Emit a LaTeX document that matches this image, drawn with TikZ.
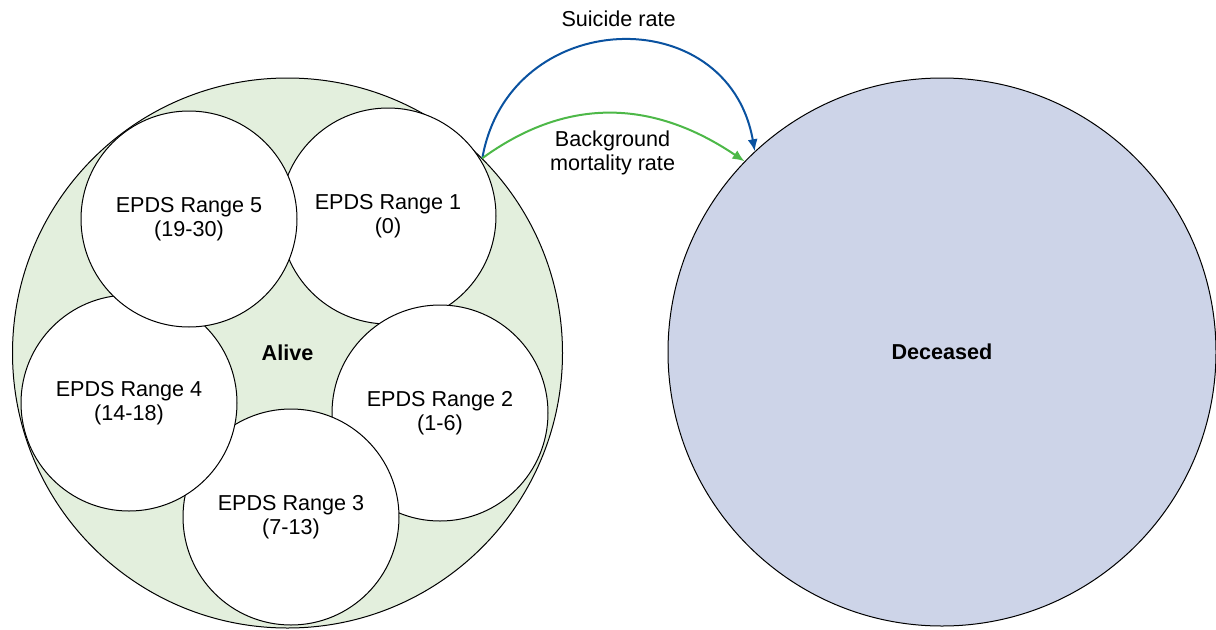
\documentclass[tikz,border=0pt]{standalone}
\usepackage{fontspec}
\setmainfont{Liberation Sans}
\usetikzlibrary{arrows.meta}
\definecolor{alivegreen}{HTML}{E3EFDD}
\definecolor{deadblue}{HTML}{CDD4E8}
\definecolor{suicideblue}{HTML}{0A52A0}
\definecolor{mortgreen}{HTML}{4DB848}
\tikzset{
    statenode/.style={circle,draw,line width=0.5pt,inner sep=0pt,font=\fontsize{10.8}{12}\selectfont\bfseries},
    epds/.style={circle,draw,line width=0.5pt,fill=white,inner sep=0pt,minimum size=108pt,align=center,font=\fontsize{10.8}{12}\selectfont},
    rate/.style={line width=1pt,-{Latex[length=6pt,width=5pt]}},
    ratelabel/.style={align=center,font=\fontsize{10.8}{12}\selectfont}
}
\begin{document}
\begin{tikzpicture}[x=0.5pt,y=0.5pt]
        \useasboundingbox (0,0) rectangle (1216,629);
        \node[statenode,fill=alivegreen,minimum size=275pt] (alive) at (287.5,276) {Alive};
        \node[statenode,fill=deadblue,minimum size=274pt] (dead) at (942,277) {Deceased};
        % the five EPDS ranges inside Alive, later ones on top
        \node[epds] (r1) at (388,413) {EPDS Range 1\\(0)};
        \node[epds] (r2) at (440,216) {EPDS Range 2\\(1-6)};
        \node[epds] (r3) at (291,112) {EPDS Range 3\\(7-13)};
        \node[epds] (r4) at (129,226) {EPDS Range 4\\(14-18)};
        \node[epds] (r5) at (189,410) {EPDS Range 5\\(19-30)};
        % transitions
        \draw[rate,suicideblue] (alive.45) to[out=80,in=100,looseness=1.45] node[midway,above=3pt,ratelabel,black]{Suicide rate} (dead.133);
        \draw[rate,mortgreen] (alive.45) to[out=36,in=146,looseness=1.05] node[midway,below=5pt,ratelabel,black]{Background\\mortality rate} (dead.136);
    \end{tikzpicture}
\end{document}
